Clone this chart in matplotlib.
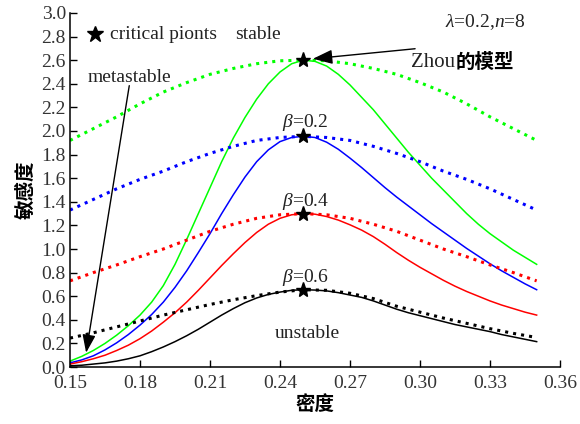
import matplotlib
matplotlib.use('Agg')
import matplotlib.pyplot as plt

plt.rcParams['font.family'] = ['Liberation Serif', 'Noto Sans CJK SC']
plt.rcParams['mathtext.fontset'] = 'custom'
plt.rcParams['mathtext.it'] = 'Liberation Serif:italic'
plt.rcParams['mathtext.rm'] = 'Liberation Serif'
plt.rcParams['font.size'] = 14

# density grids: fine one for the solid curves, coarse one for the dotted ones
density_fine = [0.15, 0.155, 0.16, 0.165, 0.17, 0.175, 0.18, 0.185, 0.19, 0.195,
                0.20, 0.205, 0.21, 0.215, 0.22, 0.225, 0.23, 0.235, 0.24, 0.245,
                0.25, 0.255, 0.26, 0.265, 0.27, 0.275, 0.28, 0.285, 0.29, 0.295,
                0.30, 0.305, 0.31, 0.315, 0.32, 0.325, 0.33, 0.335, 0.34, 0.345,
                0.35]
density = [0.15, 0.16, 0.17, 0.18, 0.19, 0.20, 0.21, 0.22, 0.23, 0.24, 0.25,
           0.26, 0.27, 0.28, 0.29, 0.30, 0.31, 0.32, 0.33, 0.34, 0.35]

# solid curves
solid_green = [0.05, 0.09, 0.14, 0.20, 0.27, 0.35, 0.44, 0.55, 0.69, 0.87,
               1.08, 1.30, 1.52, 1.74, 1.94, 2.115, 2.27, 2.40, 2.50, 2.57,
               2.60, 2.59, 2.55, 2.48, 2.39, 2.285, 2.18, 2.06, 1.94, 1.82,
               1.71, 1.60, 1.50, 1.40, 1.30, 1.21, 1.13, 1.06, 0.99, 0.93,
               0.87]
solid_blue = [0.035, 0.06, 0.095, 0.145, 0.205, 0.275, 0.355, 0.445, 0.55, 0.675,
              0.815, 0.97, 1.13, 1.30, 1.46, 1.61, 1.74, 1.84, 1.91, 1.945,
              1.955, 1.945, 1.905, 1.845, 1.77, 1.69, 1.605, 1.52, 1.44, 1.365,
              1.29, 1.215, 1.145, 1.075, 1.005, 0.94, 0.875, 0.815, 0.76, 0.705,
              0.655]
solid_red = [0.025, 0.045, 0.07, 0.10, 0.14, 0.185, 0.24, 0.305, 0.38, 0.46,
             0.55, 0.65, 0.755, 0.86, 0.96, 1.055, 1.14, 1.21, 1.26, 1.29,
             1.30, 1.295, 1.275, 1.245, 1.205, 1.16, 1.105, 1.04, 0.97, 0.905,
             0.845, 0.79, 0.735, 0.685, 0.64, 0.60, 0.56, 0.525, 0.495, 0.465,
             0.44]
solid_black = [0.01, 0.015, 0.025, 0.035, 0.05, 0.07, 0.095, 0.13, 0.17, 0.215,
               0.265, 0.32, 0.38, 0.44, 0.495, 0.545, 0.585, 0.615, 0.635, 0.65,
               0.655, 0.652, 0.645, 0.63, 0.61, 0.59, 0.56, 0.525, 0.49, 0.46,
               0.435, 0.41, 0.385, 0.36, 0.34, 0.32, 0.30, 0.275, 0.255, 0.235,
               0.215]

# dotted curves
dot_green = [1.92, 2.02, 2.12, 2.23, 2.33, 2.41, 2.48, 2.53, 2.57, 2.595, 2.60,
             2.595, 2.57, 2.53, 2.48, 2.41, 2.33, 2.23, 2.12, 2.02, 1.92]
dot_blue = [1.33, 1.42, 1.51, 1.59, 1.66, 1.74, 1.81, 1.87, 1.92, 1.945, 1.955,
            1.945, 1.92, 1.87, 1.81, 1.74, 1.66, 1.59, 1.51, 1.42, 1.33]
dot_red = [0.73, 0.80, 0.865, 0.935, 1.00, 1.075, 1.15, 1.21, 1.26, 1.29, 1.30,
           1.29, 1.26, 1.21, 1.15, 1.075, 1.00, 0.935, 0.865, 0.80, 0.73]
dot_black = [0.245, 0.29, 0.34, 0.39, 0.44, 0.485, 0.53, 0.57, 0.605, 0.635, 0.655,
             0.65, 0.625, 0.58, 0.515, 0.465, 0.415, 0.37, 0.325, 0.285, 0.25]

# critical points
crit_x = [0.25, 0.25, 0.25, 0.25]
crit_y = [2.60, 1.955, 1.30, 0.655]

beta_labels = [r'$\beta$=0.2', r'$\beta$=0.4', r'$\beta$=0.6']
beta_label_y = [2.07, 1.405, 0.76]

fig = plt.figure(figsize=(5.8, 4.24), dpi=100)
ax = fig.add_axes([0.1207, 0.1344, 0.8448, 0.835])

for ys, c in [(solid_green, '#00ff00'), (solid_blue, '#0000ff'),
              (solid_red, '#ff0000'), (solid_black, 'k')]:
    ax.plot(density_fine, ys, color=c, lw=1.1)
for ys, c in [(dot_green, '#00ff00'), (dot_blue, '#0000ff'),
              (dot_red, '#ff0000'), (dot_black, 'k')]:
    ax.plot(density, ys, color=c, lw=2.2, ls=':')

ax.plot(crit_x, crit_y, '*', color='k', ms=11, zorder=5)

# legend-ish text at top
ax.plot([0.1607], [2.82], '*', color='k', ms=12, clip_on=False)
ax.text(0.1671, 2.82, 'critical pionts', va='center', color='#222')
ax.text(0.2306, 2.82, 'stable', va='center', ha='center', color='#222')
ax.text(0.3107, 2.92, r'$\lambda$=0.2,$n$=8', va='center', color='#222')

for lab, yy in zip(beta_labels, beta_label_y):
    ax.text(0.2407, yy, lab, va='center', color='#222')
ax.text(0.2379, 0.28, 'unstable', va='center', color='#222')

# Zhou label with arrow
t1 = ax.text(0.2962, 2.58, 'Zhou', va='center', color='#222', fontsize=15)
ax.annotate('的模型', xy=(1, 0), xycoords=t1, va='bottom', ha='left',
            fontweight='bold', color='k', fontsize=14)
ax.annotate('', xy=(0.2541, 2.612), xytext=(0.2979, 2.697),
            arrowprops=dict(arrowstyle='-|>,head_length=0.6,head_width=0.22',
                            color='k', lw=1, mutation_scale=20,
                            shrinkA=0, shrinkB=0))

ax.text(0.1577, 2.45, 'metastable', va='center', color='#222')
ax.annotate('', xy=(0.1569, 0.121), xytext=(0.1754, 2.384),
            arrowprops=dict(arrowstyle='-|>,head_length=0.55,head_width=0.2',
                            color='k', lw=1, mutation_scale=20,
                            shrinkA=0, shrinkB=0))

ax.set_xlim(0.15, 0.36)
ax.set_ylim(0, 3.0)
ax.set_xticks([0.15, 0.18, 0.21, 0.24, 0.27, 0.30, 0.33, 0.36])
ax.set_xticklabels(['0.15', '0.18', '0.21', '0.24', '0.27', '0.30', '0.33', '0.36'])
ax.set_yticks([i / 5 for i in range(16)])
ax.set_yticklabels([f'{i / 5:.1f}' for i in range(16)])
ax.tick_params(direction='in', length=5, width=1, labelcolor='#333', labelsize=14)
ax.tick_params(axis='x', pad=6)
ax.tick_params(axis='y', pad=3)
ax.spines['top'].set_visible(False)
ax.spines['right'].set_visible(False)
for s in ['left', 'bottom']:
    ax.spines[s].set_linewidth(1.1)

ax.set_xlabel('密度', fontweight='bold', fontsize=14, labelpad=2)
ax.set_ylabel('敏感度', fontweight='bold', fontsize=14, labelpad=4)

fig.savefig('out.png', dpi=100)
